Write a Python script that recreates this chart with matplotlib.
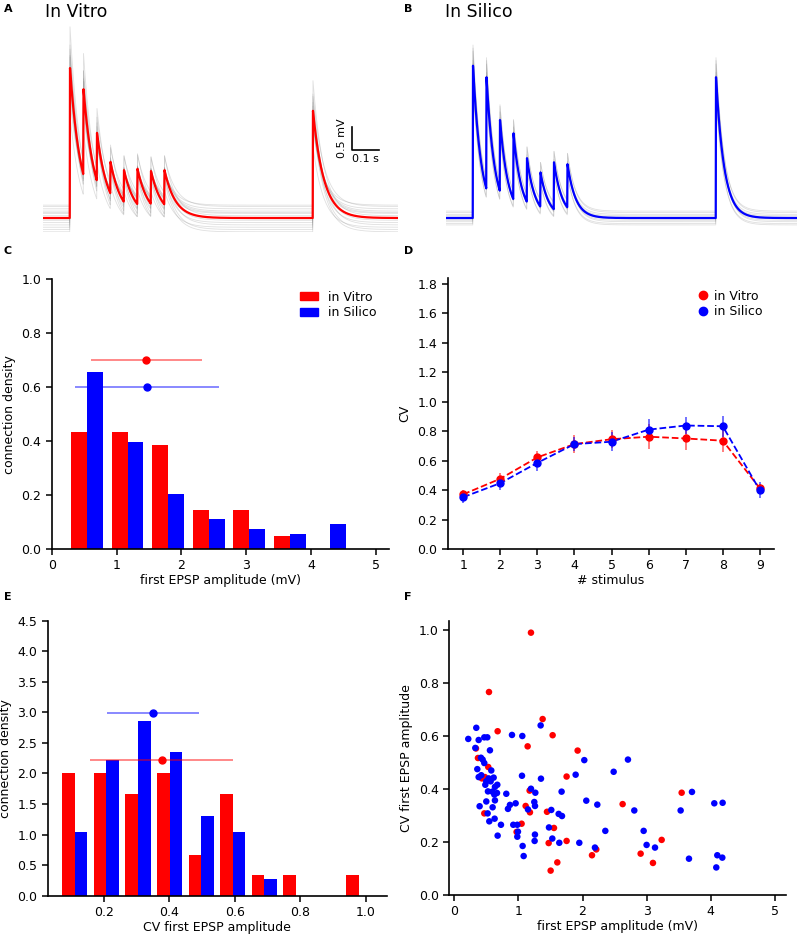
import numpy as np
import matplotlib
matplotlib.use("Agg")
import matplotlib.pyplot as plt
from matplotlib.patches import Patch
from matplotlib.lines import Line2D

plt.rcParams['font.family'] = ['DejaVu Sans']

RED = '#ff0000'
BLUE = '#0000ff'

# ---------------- data ----------------
# Panel A/B : mean EPSP traces (stimulus times in s, peak amplitudes in mV)
stim_times = [0.10, 0.15, 0.20, 0.25, 0.30, 0.35, 0.40, 0.45, 1.00]
peaks_vitro = [3.26, 2.80, 1.85, 1.22, 1.04, 1.07, 1.02, 1.04, 2.33]
peaks_silico = [3.31, 3.06, 2.13, 1.84, 1.30, 0.99, 1.21, 1.17, 3.06]
tau_vitro = 0.040
tau_silico = 0.030
# individual trial variability (scale of amplitude, baseline offset in mV)
trial_scale_vitro = [0.75, 0.85, 0.95, 1.05, 1.15, 1.26, 0.90, 1.10, 0.80, 1.20, 1.00, 0.70, 1.08, 0.92]
trial_offset_vitro = [-0.20, 0.10, -0.10, 0.25, -0.25, 0.05, 0.15, -0.05, 0.20, -0.15, 0.00, 0.28, -0.30, 0.12]
trial_scale_silico = [0.90, 0.95, 1.05, 1.10, 1.00, 0.93, 1.07, 1.12, 0.88, 1.02]
trial_offset_silico = [-0.12, 0.08, -0.05, 0.12, 0.02, -0.15, 0.15, -0.08, 0.05, -0.02]

# Panel C : first EPSP amplitude histogram
amp_bin_left = [0.30, 0.925, 1.55, 2.175, 2.80, 3.425, 4.05]
amp_dens_vitro = [0.435, 0.435, 0.387, 0.145, 0.145, 0.048, 0.0]
amp_dens_silico = [0.657, 0.395, 0.205, 0.112, 0.075, 0.056, 0.094]
amp_mean_vitro, amp_sd_vitro = 1.46, 0.86
amp_mean_silico, amp_sd_silico = 1.47, 1.11

# Panel D : CV per stimulus
stimulus = [1, 2, 3, 4, 5, 6, 7, 8, 9]
cv_vitro = [0.371, 0.477, 0.622, 0.712, 0.745, 0.762, 0.750, 0.735, 0.412]
cv_vitro_err = [0.030, 0.040, 0.045, 0.060, 0.060, 0.085, 0.075, 0.075, 0.030]
cv_silico = [0.352, 0.447, 0.585, 0.712, 0.728, 0.810, 0.838, 0.833, 0.398]
cv_silico_err = [0.040, 0.050, 0.055, 0.050, 0.065, 0.070, 0.060, 0.070, 0.055]

# Panel E : CV first EPSP histogram
cv_bin_left = [0.0725, 0.169, 0.2655, 0.362, 0.4585, 0.555, 0.6515, 0.748, 0.8445, 0.941]
cv_dens_vitro = [2.0, 2.0, 1.667, 2.0, 0.667, 1.667, 0.333, 0.333, 0.0, 0.333]
cv_dens_silico = [1.05, 2.22, 2.86, 2.35, 1.31, 1.05, 0.27, 0.0, 0.0, 0.0]
cv_mean_vitro, cv_sd_vitro = 0.376, 0.218
cv_mean_silico, cv_sd_silico = 0.349, 0.141

# Panel F : scatter amplitude vs CV
f_vitro_x = [1.196, 0.541, 1.378, 0.676, 1.534, 1.144, 1.924, 0.338, 0.369, 0.530, 1.752, 0.478,
             0.430, 3.547, 1.175, 2.626, 1.113, 1.180, 1.446, 0.468, 1.050, 0.972, 1.555, 1.752,
             3.235, 1.472, 2.215, 2.148, 2.907, 1.607, 3.099, 1.503]
f_vitro_y = [0.990, 0.766, 0.664, 0.618, 0.603, 0.561, 0.545, 0.553, 0.517, 0.483, 0.447, 0.445,
             0.440, 0.386, 0.394, 0.343, 0.336, 0.312, 0.314, 0.308, 0.269, 0.238, 0.253, 0.204,
             0.208, 0.196, 0.172, 0.150, 0.156, 0.123, 0.121, 0.092]
f_silico_x = [0.218, 0.343, 0.328, 0.380, 0.468, 0.515, 0.556, 0.900, 1.061, 1.347, 0.416, 0.442,
              0.468, 0.359, 0.577, 0.380, 0.421, 0.536, 0.614, 0.499, 0.567, 0.671, 0.484, 0.634,
              0.525, 0.593, 0.666, 0.624, 0.634, 0.499, 0.811, 0.395, 0.598, 0.868, 0.837, 0.957,
              0.520, 0.546, 0.629, 0.728, 0.676, 0.920, 0.983, 0.993, 0.983, 1.066, 1.082, 1.056,
              1.196, 1.264, 1.248, 1.259, 1.149, 1.352, 1.258, 1.253, 1.477, 1.529, 1.513, 1.628,
              1.680, 1.674, 1.638, 1.893, 2.028, 2.059, 1.950, 2.231, 2.194, 2.356, 2.486, 2.709,
              2.808, 2.954, 3.000, 3.131, 3.531, 3.708, 3.661, 4.056, 4.186, 4.087, 4.103, 4.181]
f_silico_y = [0.589, 0.631, 0.555, 0.585, 0.595, 0.595, 0.546, 0.604, 0.600, 0.640, 0.518, 0.511,
              0.498, 0.475, 0.470, 0.445, 0.452, 0.440, 0.443, 0.429, 0.429, 0.416, 0.416, 0.408,
              0.391, 0.390, 0.385, 0.379, 0.357, 0.353, 0.382, 0.335, 0.331, 0.340, 0.325, 0.346,
              0.308, 0.278, 0.288, 0.265, 0.224, 0.265, 0.265, 0.239, 0.220, 0.185, 0.147, 0.450,
              0.401, 0.386, 0.351, 0.336, 0.323, 0.439, 0.228, 0.204, 0.255, 0.213, 0.321, 0.306,
              0.298, 0.390, 0.197, 0.454, 0.509, 0.356, 0.197, 0.341, 0.179, 0.242, 0.465, 0.511,
              0.319, 0.242, 0.189, 0.179, 0.319, 0.389, 0.137, 0.346, 0.348, 0.104, 0.150, 0.141]

# ---------------- figure ----------------
W, H = 800, 934
fig = plt.figure(figsize=(W / 100, H / 100), dpi=100)


def px_axes(x0, y0, x1, y1):
    return fig.add_axes([x0 / W, 1 - y1 / H, (x1 - x0) / W, (y1 - y0) / H])


def epsp_trace(t, times, peaks, tau, scale=1.0, offset=0.0):
    v = np.zeros_like(t)
    ends = list(times[1:]) + [t[-1] + 1]
    for ts, te, pk in zip(times, ends, peaks):
        m = (t >= ts) & (t < te)
        v[m] = scale * pk * np.exp(-(t[m] - ts) / tau)
    return v + offset


def trace_panel(ax, tend, peaks, tau, scales, offsets, color):
    t = np.arange(0, tend, 0.001)
    for s, o in zip(scales, offsets):
        ax.plot(t, epsp_trace(t, stim_times, peaks, tau, s, o), color='grey', lw=0.6, alpha=0.25)
    ax.plot(t, epsp_trace(t, stim_times, peaks, tau), color=color, lw=1.6)
    ax.set_xlim(0, tend)
    ax.set_ylim(-0.304, 4.196)
    ax.axis('off')


axA = px_axes(43, 25, 398, 232)
trace_panel(axA, 1.315, peaks_vitro, tau_vitro, trial_scale_vitro, trial_offset_vitro, RED)
# scale bar
axA.plot([1.144, 1.144, 1.244], [1.978, 1.478, 1.478], color='black', lw=1.2)
axA.text(1.125, 1.73, '0.5 mV', rotation=90, ha='right', va='center', fontsize=8)
axA.text(1.194, 1.40, '0.1 s', ha='center', va='top', fontsize=8)

axB = px_axes(446, 25, 797, 232)
trace_panel(axB, 1.30, peaks_silico, tau_silico, trial_scale_silico, trial_offset_silico, BLUE)

fig.text(45 / W, 1 - 12 / H, 'In Vitro', fontsize=12.5, va='center', ha='left')
fig.text(445 / W, 1 - 12 / H, 'In Silico', fontsize=12.5, va='center', ha='left')
for lab, x, y in [('A', 4, 9), ('B', 404, 9), ('C', 4, 251), ('D', 404, 251), ('E', 4, 597), ('F', 404, 597)]:
    fig.text(x / W, 1 - y / H, lab, fontsize=8, fontweight='bold', va='center', ha='left')


def style(ax):
    for s in ['top', 'right']:
        ax.spines[s].set_visible(False)
    for s in ['left', 'bottom']:
        ax.spines[s].set_linewidth(1.2)
    ax.tick_params(direction='out', length=4, width=1.1, labelsize=9)


# Panel C
axC = px_axes(51.7, 279.3, 389, 549)
bw = 0.245
axC.bar(amp_bin_left, amp_dens_vitro, width=bw, align='edge', color=RED, label='in Vitro')
axC.bar([x + bw for x in amp_bin_left], amp_dens_silico, width=bw, align='edge', color=BLUE, label='in Silico')
axC.errorbar([amp_mean_vitro], [0.70], xerr=[amp_sd_vitro], fmt='o', color=RED, ms=5,
             ecolor=(1, 0, 0, 0.5), elinewidth=1.3, capsize=0)
axC.errorbar([amp_mean_silico], [0.60], xerr=[amp_sd_silico], fmt='o', color=BLUE, ms=5,
             ecolor=(0, 0, 1, 0.5), elinewidth=1.3, capsize=0)
axC.set_xlim(0, 5.2)
axC.set_ylim(0, 1.0)
axC.set_xticks([0, 1, 2, 3, 4, 5])
axC.set_yticks([0.0, 0.2, 0.4, 0.6, 0.8, 1.0])
axC.set_yticklabels(['0.0', '0.2', '0.4', '0.6', '0.8', '1.0'])
axC.set_xlabel('first EPSP amplitude (mV)', fontsize=9, labelpad=1)
axC.set_ylabel('connection density', fontsize=9)
style(axC)
axC.legend(handles=[Patch(color=RED, label='in Vitro'), Patch(color=BLUE, label='in Silico')],
           loc='upper right', frameon=False, fontsize=9, handlelength=1.5, handleheight=0.6,
           borderaxespad=0.3, labelspacing=0.2, bbox_to_anchor=(0.99, 0.99))

# Panel D
axD = px_axes(447.7, 278.3, 774.3, 549)
axD.plot(stimulus, cv_vitro, '--', color=RED, lw=1.3)
axD.plot(stimulus, cv_silico, '--', color=BLUE, lw=1.3)
axD.errorbar(stimulus, cv_vitro, yerr=cv_vitro_err, fmt='o', color=RED, ms=5,
             ecolor=(1, 0, 0, 0.55), elinewidth=1.3, capsize=0)
axD.errorbar(stimulus, cv_silico, yerr=cv_silico_err, fmt='o', color=BLUE, ms=5,
             ecolor=(0, 0, 1, 0.7), elinewidth=1.1, capsize=0)
axD.set_xlim(0.58, 9.39)
axD.set_ylim(0, 1.837)
axD.set_xticks(stimulus)
axD.set_yticks(np.arange(0, 1.81, 0.2))
axD.set_yticklabels(['0.0', '0.2', '0.4', '0.6', '0.8', '1.0', '1.2', '1.4', '1.6', '1.8'])
axD.set_xlabel('# stimulus', fontsize=9, labelpad=1)
axD.set_ylabel('CV', fontsize=9)
style(axD)
axD.legend(handles=[Line2D([], [], marker='o', ls='', color=RED, ms=6, label='in Vitro'),
                    Line2D([], [], marker='o', ls='', color=BLUE, ms=6, label='in Silico')],
           loc='upper right', frameon=False, fontsize=9, handletextpad=0.3, handlelength=1.2,
           borderaxespad=0.3, labelspacing=0.2, bbox_to_anchor=(0.99, 0.99))

# Panel E
axE = px_axes(47.7, 620.7, 386.7, 895.7)
bw2 = 0.0385
axE.bar(cv_bin_left, cv_dens_vitro, width=bw2, align='edge', color=RED)
axE.bar([x + bw2 for x in cv_bin_left], cv_dens_silico, width=bw2, align='edge', color=BLUE)
axE.errorbar([cv_mean_silico], [2.985], xerr=[cv_sd_silico], fmt='o', color=BLUE, ms=5,
             ecolor=(0, 0, 1, 0.5), elinewidth=1.3, capsize=0)
axE.errorbar([cv_mean_vitro], [2.22], xerr=[cv_sd_vitro], fmt='o', color=RED, ms=5,
             ecolor=(1, 0, 0, 0.5), elinewidth=1.3, capsize=0)
axE.set_xlim(0.028, 1.064)
axE.set_ylim(0, 4.5)
axE.set_xticks([0.2, 0.4, 0.6, 0.8, 1.0])
axE.set_yticks(np.arange(0, 4.51, 0.5))
axE.set_xlabel('CV first EPSP amplitude', fontsize=9, labelpad=1)
axE.set_ylabel('connection density', fontsize=9)
style(axE)

# Panel F
axF = px_axes(449.3, 621, 785.7, 895)
axF.scatter(f_vitro_x, f_vitro_y, s=22, color=RED, edgecolors='none')
axF.scatter(f_silico_x, f_silico_y, s=22, color=BLUE, edgecolors='none')
axF.set_xlim(-0.078, 5.17)
axF.set_ylim(0, 1.034)
axF.set_xticks([0, 1, 2, 3, 4, 5])
axF.set_yticks([0.0, 0.2, 0.4, 0.6, 0.8, 1.0])
axF.set_yticklabels(['0.0', '0.2', '0.4', '0.6', '0.8', '1.0'])
axF.set_xlabel('first EPSP amplitude (mV)', fontsize=9, labelpad=1)
axF.set_ylabel('CV first EPSP amplitude', fontsize=9)
style(axF)

fig.savefig('out.png', dpi=100)
